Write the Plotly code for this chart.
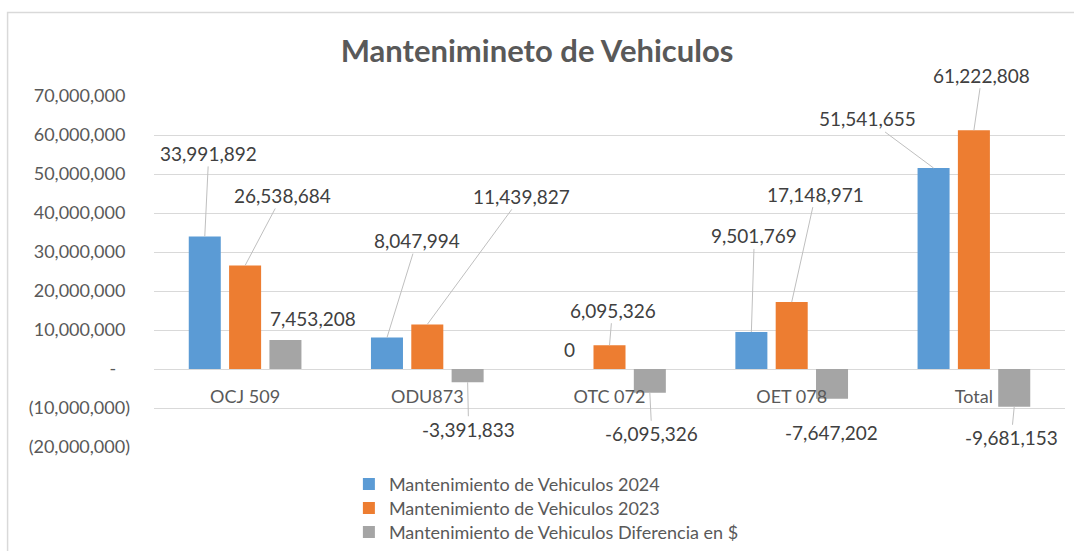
import plotly.graph_objects as go

# ---------------- data ----------------
categories = ["OCJ 509", "ODU873", "OTC 072", "OET 078", "Total"]
series_names = [
    "Mantenimiento de Vehiculos 2024",
    "Mantenimiento de Vehiculos 2023",
    "Mantenimiento de Vehiculos Diferencia en $",
]
v2024 = [33991892, 8047994, 0, 9501769, 51541655]
v2023 = [26538684, 11439827, 6095326, 17148971, 61222808]
vdiff = [7453208, -3391833, -6095326, -7647202, -9681153]
y_ticks = [70e6, 60e6, 50e6, 40e6, 30e6, 20e6, 10e6, 0, -10e6, -20e6]
title_text = "Mantenimineto de Vehiculos"

# ---------------- style ----------------
W, H = 1074, 551
ML, MR, MT, MB = 154, 8.5, 96, 104.3
colors = ["#5b9bd5", "#ed7d31", "#a5a5a5"]
FONT = "Lato, Carlito, Calibri, 'Open Sans', sans-serif"
BARGAP = 0.336
GROUPGAP = 0.206
YMIN, YMAX = -20e6, 70e6
legend_rows_px = [484, 508, 532]

# label offsets (px) of each data label relative to its bar end, and leader flag
label_offsets = [
    [(4, -83), (30, -97), (0, -20), (3, -96), (-66, -49)],
    [(37, -70), (94, -128), (3, -35), (24, -108), (8, -55)],
    [(28, -21), (1, 47), (2, 41), (-1, 34), (-3, 31)],
]
leader = [
    [True, True, False, True, True],
    [True, True, True, True, True],
    [False, True, True, True, True],
]


def ytick_text(v):
    v = int(v)
    if v > 0:
        return f"{v:,}\u00a0"
    if v == 0:
        return "-\u00a0\u00a0\u00a0"
    return f"({abs(v):,})"


def label_text(v):
    return f"{v:,}"


pw = W - ML - MR
ph = H - MT - MB


def px_x(p):
    return (p - ML) / pw


def px_y(p):
    return (H - MB - p) / ph


fig = go.Figure()
all_series = [v2024, v2023, vdiff]
legend_ids = ["legend", "legend2", "legend3"]
for name, vals, col, lid in zip(series_names, all_series, colors, legend_ids):
    fig.add_trace(go.Bar(
        name=name, x=categories, y=vals, legend=lid, showlegend=True,
        marker=dict(color=col, line=dict(width=0)),
    ))

# data labels with leader lines
slot = (1 - BARGAP) / 3
annotations = []
for k, vals in enumerate(all_series):
    for i, v in enumerate(vals):
        dx, dy = label_offsets[k][i]
        annotations.append(dict(
            x=i + (k - 1) * slot, y=v, xref="x", yref="y",
            text=label_text(v), showarrow=True,
            ax=dx, ay=dy, axref="pixel", ayref="pixel",
            arrowhead=0, arrowwidth=1, standoff=0,
            arrowcolor="#bfbfbf" if leader[k][i] else "rgba(0,0,0,0)",
            font=dict(family=FONT, size=19, color="#404040"),
            borderpad=1,
        ))

legend_common = dict(
    orientation="v", xanchor="left", yanchor="middle",
    font=dict(family=FONT, size=18, color="#595959"),
    bgcolor="rgba(0,0,0,0)", itemclick=False, itemdoubleclick=False,
    visible=True,
)

fig.update_layout(
    width=W, height=H,
    showlegend=True,
    margin=dict(l=ML, r=MR, t=MT, b=MB, pad=0, autoexpand=False),
    paper_bgcolor="white", plot_bgcolor="white",
    barmode="group", bargap=BARGAP, bargroupgap=GROUPGAP,
    title=dict(
        text=f"<b>{title_text}</b>", x=0.5, xref="container", xanchor="center",
        y=1 - 51 / H, yref="container", yanchor="middle",
        font=dict(family=FONT, size=31, color="#595959"),
    ),
    font=dict(family=FONT, color="#595959"),
    yaxis=dict(
        range=[YMIN, YMAX], tickvals=y_ticks,
        ticktext=[ytick_text(v) for v in y_ticks],
        showgrid=True, gridcolor="#d9d9d9", gridwidth=1,
        zeroline=True, zerolinecolor="#d9d9d9", zerolinewidth=1,
        showline=False, ticks="", ticklabelstandoff=23,
        tickfont=dict(family=FONT, size=18, color="#595959"),
        automargin=False,
    ),
    xaxis=dict(
        anchor="free", position=(0 - YMIN) / (YMAX - YMIN),
        showgrid=False, showline=False, zeroline=False, ticks="",
        ticklabelstandoff=15, automargin=False,
        tickfont=dict(family=FONT, size=18, color="#595959"),
        layer="above traces",
    ),
    legend=dict(legend_common, x=px_x(349), y=px_y(legend_rows_px[0])),
    legend2=dict(legend_common, x=px_x(349), y=px_y(legend_rows_px[1])),
    legend3=dict(legend_common, x=px_x(349), y=px_y(legend_rows_px[2])),
    annotations=annotations,
    shapes=[dict(
        type="rect", xref="paper", yref="paper",
        x0=px_x(7.5), x1=px_x(W + 20), y0=px_y(H + 20), y1=px_y(12.5),
        line=dict(color="#d9d9d9", width=1.5), fillcolor="rgba(0,0,0,0)",
        layer="below",
    )],
)

fig.write_html(
    "out.html",
    config={"displayModeBar": False},
    post_script="document.body.style.margin='0';document.body.style.padding='0';",
)
